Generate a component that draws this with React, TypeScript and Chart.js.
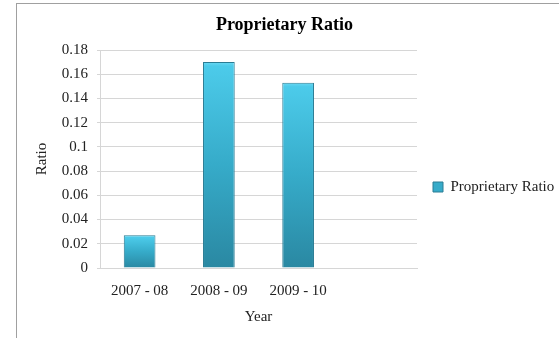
import React, { useEffect, useRef } from "react";
import { Chart, registerables } from "chart.js";

Chart.register(...registerables);

const categories = ["2007 - 08", "2008 - 09", "2009 - 10", ""];
const ratioValues = [0.027, 0.17, 0.153, null];
const seriesLabel = "Proprietary Ratio";
const chartTitle = "Proprietary Ratio";
const xTitle = "Year";
const yTitle = "Ratio";
const yMin = 0;
const yMax = 0.18;
const yStep = 0.02;

const FONT = "'Liberation Serif', 'Times New Roman', serif";
const BAR_TOP = "#4ccbea";
const BAR_MID = "#36abc9";
const BAR_BOTTOM = "#2a88a2";
const BAR_EDGE = "#2a7c94";
const GRID = "#d6d6d6";

// White page with a thin grey frame around the chart object
const framePlugin = {
  id: "frame",
  beforeDraw(chart: any) {
    const { ctx, width, height } = chart;
    ctx.save();
    ctx.fillStyle = "#ffffff";
    ctx.fillRect(0, 0, width, height);
    ctx.strokeStyle = "#a0a0a0";
    ctx.lineWidth = 1;
    ctx.strokeRect(16.5, 3.5, width + 20, height + 20);
    ctx.restore();
  },
};

export default function App() {
  const canvasRef = useRef<HTMLCanvasElement | null>(null);

  useEffect(() => {
    if (!canvasRef.current) return;
    const chart = new Chart(canvasRef.current, {
      type: "bar",
      data: {
        labels: categories,
        datasets: [
          {
            label: seriesLabel,
            data: ratioValues,
            backgroundColor: (c: any) => {
              const ch = c.chart;
              if (!ch.chartArea || c.type !== "data" || c.raw == null) return BAR_MID;
              const y = ch.scales.y;
              const top = y.getPixelForValue(c.raw);
              const base = y.getPixelForValue(0);
              const g = ch.ctx.createLinearGradient(0, top, 0, base);
              g.addColorStop(0, "#6bd9f3");
              g.addColorStop(Math.min(0.06, 4 / Math.max(base - top, 1)), BAR_TOP);
              g.addColorStop(0.5, BAR_MID);
              g.addColorStop(1, BAR_BOTTOM);
              return g;
            },
            borderColor: BAR_EDGE,
            borderWidth: 1,
            barPercentage: 0.4,
            categoryPercentage: 1,
          },
        ],
      },
      options: {
        responsive: false,
        animation: false,
        layout: { padding: { left: 10, right: 0, top: 0, bottom: 0 } },
        plugins: {
          title: {
            display: true,
            text: chartTitle,
            color: "#000000",
            font: { family: FONT, size: 18, weight: "bold" },
            padding: { top: 15, bottom: 13.4 },
          },
          legend: {
            display: true,
            position: "right",
            align: "center",
            maxWidth: 142,
            title: {
              display: true,
              text: " ",
              font: { family: FONT, size: 15 },
              padding: { top: 0, bottom: 18 },
            },
            labels: {
              boxWidth: 10,
              boxHeight: 10,
              padding: 16,
              color: "#222222",
              font: { family: FONT, size: 15 },
              generateLabels: (ch: any) =>
                Chart.defaults.plugins.legend.labels
                  .generateLabels(ch)
                  .map((item: any) => ({ ...item, fillStyle: BAR_MID, strokeStyle: BAR_EDGE, lineWidth: 1 })),
            },
          },
          tooltip: { enabled: false },
        },
        scales: {
          x: {
            grid: { display: false, drawTicks: false },
            border: { display: true, color: GRID, width: 1 },
            ticks: {
              color: "#222222",
              font: { family: FONT, size: 15 },
              padding: 14,
              maxRotation: 0,
            },
            title: {
              display: true,
              text: xTitle,
              color: "#222222",
              font: { family: FONT, size: 15 },
              padding: { top: 0, bottom: 12 },
            },
            afterFit: (s: any) => {
              s.height = 70;
            },
          },
          y: {
            min: yMin,
            max: yMax,
            grid: { color: GRID, lineWidth: 1, tickLength: 3, drawTicks: true },
            border: { display: true, color: GRID, width: 1 },
            ticks: {
              stepSize: yStep,
              color: "#222222",
              font: { family: FONT, size: 15 },
              padding: 9,
              callback: (v: any) => String(+Number(v).toFixed(2)),
            },
            title: {
              display: true,
              text: yTitle,
              color: "#222222",
              font: { family: FONT, size: 15 },
              padding: { top: 23.5, bottom: 0 },
            },
            afterFit: (s: any) => {
              s.width = 90;
            },
          },
        },
      },
      plugins: [framePlugin],
    });
    return () => chart.destroy();
  }, []);

  return (
    <div style={{ position: "absolute", left: 0, top: 0, width: 559, height: 338 }}>
      <canvas ref={canvasRef} width={559} height={338} style={{ display: "block" }} />
    </div>
  );
}
